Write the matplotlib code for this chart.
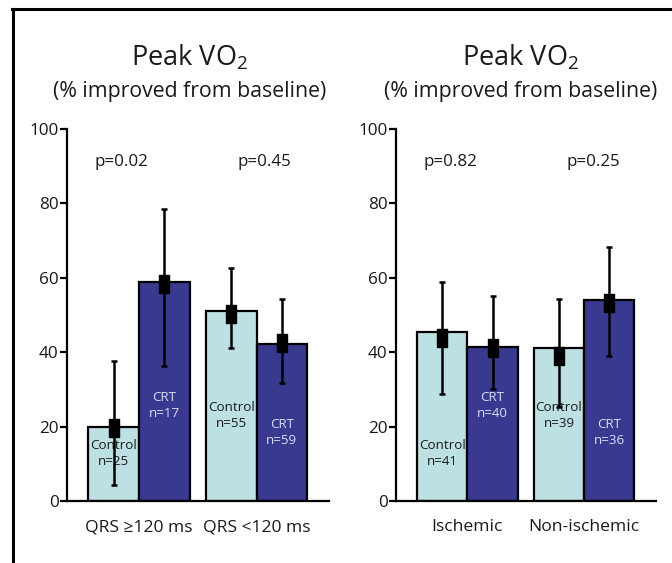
import matplotlib
matplotlib.use("Agg")
import matplotlib.pyplot as plt
from matplotlib.lines import Line2D
import numpy as np

plt.rcParams['font.family'] = ['Open Sans', 'DejaVu Sans']

# ---- data ----
left_groups = ["QRS \u2265120 ms", "QRS <120 ms"]
right_groups = ["Ischemic", "Non-ischemic"]

left_bar_control = [20, 51]
left_bar_crt = [59, 42.3]
left_mean_control = [19.5, 50.4]
left_mean_crt = [58.4, 42.6]
left_err_lo_control = [4.4, 41.0]
left_err_hi_control = [37.6, 62.7]
left_err_lo_crt = [36.4, 31.8]
left_err_hi_crt = [78.6, 54.4]
left_n_control = [25, 55]
left_n_crt = [17, 59]
left_p = ["p=0.02", "p=0.45"]

right_bar_control = [45.3, 41.1]
right_bar_crt = [41.4, 54.0]
right_mean_control = [43.8, 39.1]
right_mean_crt = [41.1, 53.3]
right_err_lo_control = [28.8, 25.4]
right_err_hi_control = [59.0, 54.4]
right_err_lo_crt = [30.2, 39.1]
right_err_hi_crt = [55.0, 68.3]
right_n_control = [41, 39]
right_n_crt = [40, 36]
right_p = ["p=0.82", "p=0.25"]

yticks = [0, 20, 40, 60, 80, 100]

# ---- style ----
c_control = "#bde0e3"
c_crt = "#38398f"
c_text = "#1a1a1a"
c_crt_text = "#dcdcf8"

fig = plt.figure(figsize=(6.72, 5.63), dpi=100)

W, H = 672, 563
def ax_rect(x0, x1, y0px, y1px):
    return [x0 / W, (H - y0px) / H, (x1 - x0) / W, (y0px - y1px) / H]

ax_l = fig.add_axes(ax_rect(67, 329, 501, 129))
ax_r = fig.add_axes(ax_rect(396, 656, 501, 129))

ctrl_x = np.array([0.92, 3.24])
crt_x = ctrl_x + 1.0
ctrl_label_y = [[12.8, 23.0], [12.8, 23.0]]
crt_label_y = [[25.7, 18.4], [25.7, 18.4]]
p_x = [[1.07, 3.90], [1.09, 3.92]]

rect_marker = [(-0.3, -0.5), (0.3, -0.5), (0.3, 0.5), (-0.3, 0.5), (-0.3, -0.5)]

panels = [
    (ax_l, left_groups, left_bar_control, left_bar_crt, left_mean_control, left_mean_crt,
     left_err_lo_control, left_err_hi_control, left_err_lo_crt, left_err_hi_crt,
     left_n_control, left_n_crt, left_p, 190),
    (ax_r, right_groups, right_bar_control, right_bar_crt, right_mean_control, right_mean_crt,
     right_err_lo_control, right_err_hi_control, right_err_lo_crt, right_err_hi_crt,
     right_n_control, right_n_crt, right_p, 521),
]

for i, (ax, groups, bc, bt, mc, mt, elc, ehc, elt, eht, nc, nt, pv, tx) in enumerate(panels):
    ax.bar(ctrl_x, bc, width=1.0, color=c_control, edgecolor="black", linewidth=1.6, zorder=2)
    ax.bar(crt_x, bt, width=1.0, color=c_crt, edgecolor="black", linewidth=1.6, zorder=2)
    for xs, m, lo, hi in [(ctrl_x, mc, elc, ehc), (crt_x, mt, elt, eht)]:
        m = np.array(m); lo = np.array(lo); hi = np.array(hi)
        ax.errorbar(xs, m, yerr=[m - lo, hi - m], fmt='none', ecolor='black',
                    elinewidth=1.8, capsize=2.5, capthick=1.8, zorder=4)
        ax.plot(xs, m, linestyle='none', marker=rect_marker, markersize=13,
                color='black', zorder=5)
    for j in range(2):
        ax.text(ctrl_x[j], ctrl_label_y[i][j], f"Control\nn={nc[j]}", ha='center', va='center',
                fontsize=9.6, color=c_text, linespacing=1.25, zorder=3)
        ax.text(crt_x[j], crt_label_y[i][j], f"CRT\nn={nt[j]}", ha='center', va='center',
                fontsize=9.6, color=c_crt_text, linespacing=1.25, zorder=3)
        ax.text(p_x[i][j], 91, pv[j], ha='center', va='center', fontsize=12.2, color=c_text)

    ax.set_xlim(0, 5.17)
    ax.set_ylim(0, 100)
    ax.set_yticks(yticks)
    ax.set_yticklabels([str(t) for t in yticks], fontsize=12.3, color=c_text)
    ax.set_xticks((ctrl_x + crt_x) / 2)
    ax.set_xticklabels(groups, fontsize=12.6, color=c_text)
    ax.tick_params(axis='x', length=0, pad=13)
    ax.tick_params(axis='y', length=5, width=1.6, pad=1, direction='out')
    for s in ['top', 'right']:
        ax.spines[s].set_visible(False)
    for s in ['left', 'bottom']:
        ax.spines[s].set_linewidth(1.6)
    ax.patch.set_alpha(0)

    fig.text(tx / W, 1 - 58 / H, "Peak VO$_\\mathregular{2}$", ha='center', va='center',
             fontsize=19.5, color=c_text)
    fig.text(tx / W, 1 - 91 / H, "(% improved from baseline)", ha='center', va='center',
             fontsize=15.3, color=c_text)

# outer border (top and left visible)
fig.add_artist(Line2D([13 / W, 13 / W], [0, 1 - 9 / H], color='black', linewidth=2.2,
                      transform=fig.transFigure))
fig.add_artist(Line2D([12 / W, 1], [1 - 9 / H, 1 - 9 / H], color='black', linewidth=2.2,
                      transform=fig.transFigure))

fig.savefig("out.png", dpi=100)
